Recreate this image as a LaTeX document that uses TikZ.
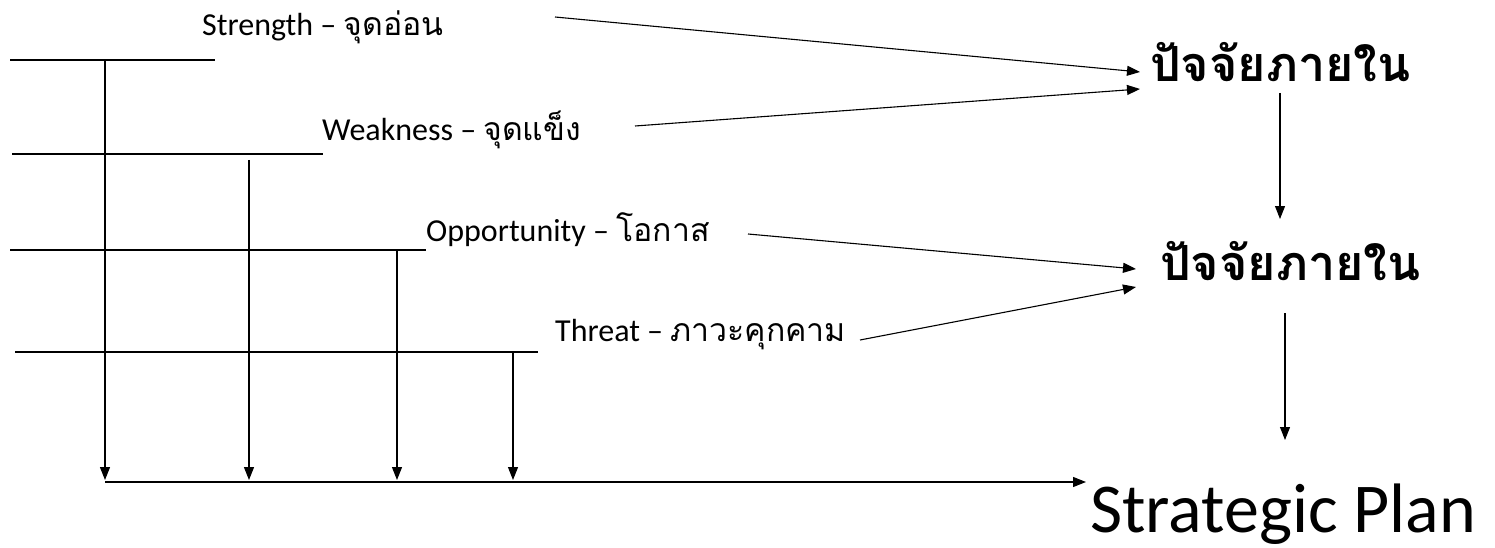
\documentclass[tikz,border=0pt]{standalone}
\usepackage{fontspec}
\setmainfont{Carlito}
\newfontfamily\thai[Script=Thai]{Loma}
\usetikzlibrary{arrows.meta}
\tikzset{
  conn/.style={line width=1.1pt, -{Triangle[length=13pt,width=10pt]}},
  bar/.style={line width=1.2pt},
  lbl/.style={inner sep=0pt, anchor=base west, font=\fontsize{32}{36}\selectfont},
  head/.style={inner sep=0pt, anchor=base west, font=\fontsize{48.5}{52}\selectfont\thai\bfseries},
  big/.style={inner sep=0pt, anchor=base west, font=\fontsize{70}{74}\selectfont}
}
\newcommand{\thaitext}[1]{{\fontsize{32}{36}\selectfont\thai #1}}
\begin{document}
\begin{tikzpicture}[x=1pt,y=-1pt]
\useasboundingbox (0,0) rectangle (1495,548);
% labels
\node[lbl] (s) at (202,36) {Strength – \thaitext{จุดอ่อน}};
\node[lbl] (w) at (322,141) {Weakness – \thaitext{จุดแข็ง}};
\node[lbl] (o) at (426,241) {Opportunity – \thaitext{โอกาส}};
\node[lbl] (t) at (555,341) {Threat – \thaitext{ภาวะคุกคาม}};
% right headings
\node[head] (h1) at (1150,82) {ปัจจัยภายใน};
\node[head] (h2) at (1160,280) {ปัจจัยภายใน};
\node[big] (sp) at (1090,532) {Strategic Plan};
% horizontal bars
\coordinate (l1a) at (10,60);  \coordinate (l1b) at (215,60);
\coordinate (l2a) at (12,154); \coordinate (l2b) at (323,154);
\coordinate (l3a) at (10,250); \coordinate (l3b) at (426,250);
\coordinate (l4a) at (15,352); \coordinate (l4b) at (538,352);
\draw[bar] (l1a) -- (l1b);
\draw[bar] (l2a) -- (l2b);
\draw[bar] (l3a) -- (l3b);
\draw[bar] (l4a) -- (l4b);
% vertical drops
\coordinate (v1a) at (105,60);  \coordinate (v1b) at (105,480);
\coordinate (v2a) at (249,160); \coordinate (v2b) at (249,480);
\coordinate (v3a) at (397,250); \coordinate (v3b) at (397,480);
\coordinate (v4a) at (513,352); \coordinate (v4b) at (513,480);
\draw[conn] (v1a) -- (v1b);
\draw[conn] (v2a) -- (v2b);
\draw[conn] (v3a) -- (v3b);
\draw[conn] (v4a) -- (v4b);
% bottom line
\coordinate (ba) at (105,482); \coordinate (bb) at (1086,482);
\draw[conn] (ba) -- (bb);
% arrows into headings
\coordinate (s1) at (555,17);  \coordinate (e1) at (1140,72);
\coordinate (s2) at (635,126); \coordinate (e2) at (1140,89);
\coordinate (s3) at (748,234); \coordinate (e3) at (1136,269);
\coordinate (s4) at (860,340); \coordinate (e4) at (1136,287);
\draw[conn] (s1) -- (e1);
\draw[conn] (s2) -- (e2);
\draw[conn] (s3) -- (e3);
\draw[conn] (s4) -- (e4);
% down arrows
\coordinate (d1a) at (1280,93);  \coordinate (d1b) at (1280,219);
\coordinate (d2a) at (1285,313); \coordinate (d2b) at (1285,440);
\draw[conn] (d1a) -- (d1b);
\draw[conn] (d2a) -- (d2b);
\end{tikzpicture}
\end{document}
